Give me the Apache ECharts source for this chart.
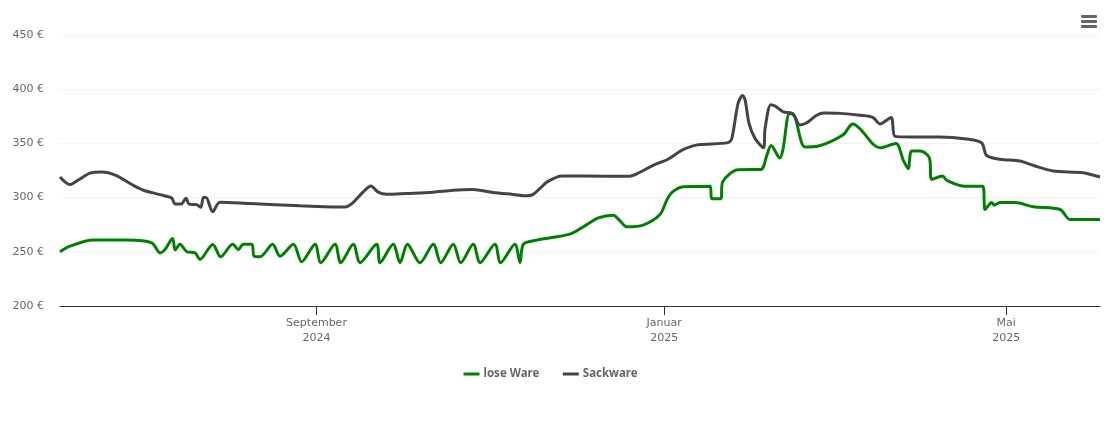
<!DOCTYPE html>
<html>
<head>
<meta charset="utf-8">
<title>Preisverlauf</title>
<script src="https://cdn.jsdelivr.net/npm/echarts@6/dist/echarts.min.js"></script>
<style>
html,body{margin:0;padding:0;background:#fff}
#chart{width:1110px;height:423px}
</style>
</head>
<body>
<div id="chart"></div>
<script>
// x values are days counted from 3 June 2024
var lastDay = 364.9;

var looseDays = [0,3.5,11.7,23.4,32.2,35.1,36.8,39.5,40.4,42.1,44.5,47.4,49.1,53.6,56.4,60.6,62.6,64.3,67.3,68.1,70.2,74.6,77.2,81.9,84.8,89.5,91.5,96.5,98.5,102.9,105.3,111.1,112.3,116.9,119.3,121.9,126.3,131,133.6,138,140.6,145,147.4,152.6,154.6,159.6,161.4,162.6,167.3,178.9,183.6,188.9,194.1,196.5,199,204.6,210.5,212.9,214.8,218.7,228.1,228.7,231.8,232.5,238,245.9,248,249.5,252.6,253.7,255.9,257.1,261.4,266.1,274.8,278.1,280.7,285.4,287.7,293.3,295.9,297.6,298.8,301.8,305,305.9,309.7,311.1,317.5,323.7,324.6,326.9,327.7,329.8,335.1,341.5,350.9,354.4,364.9];
var looseValues = [250,255.2,260.8,260.8,258.3,249,252,262.3,251.6,257,250,249,243,256.8,245.4,257,252,257,257,246,245.4,257,246,257,240.8,257,240,257,240,257,240,257,240,257,240,257,240,257,240,257,240,257,240,257,240,257,240,257,260.8,266.3,273,281.3,283.8,278.5,273,274.6,284.4,297.6,305,310,310.5,299,299,314.5,325.8,326,339,348,336.5,345,377.4,377.4,346.7,347.6,358,368,363.5,349,346,350,334.4,326.7,343,343,337,316.7,320,316,310.5,310.5,289,295.4,293,295.4,295.4,291.5,289,279.8,279.8];

var sackDays = [0,3.5,6.3,10.5,14.6,19.6,24.6,29.1,35.1,39.2,40.4,42.5,44.2,45.3,48,49.4,50.3,51.2,53.6,56.1,66.7,84.2,100,102.4,106.3,109.1,111.6,114.7,121.6,130.9,137.9,144.9,151.9,158.9,163.8,166,168.4,171.2,176.1,191.8,199.3,202.4,208.1,213.3,218.1,221.8,224.6,234.4,235.7,237.9,239.5,240.4,241.8,243.9,246.8,247.4,249.4,250.9,253.8,256.7,257.9,259.6,262,265.5,268.1,273.7,280.7,285.2,287.7,291.6,293,298.2,308.8,318.1,323.4,325.1,329.8,336.8,341.4,348.4,358.9,364.9];
var sackValues = [319,312,316,322.5,323.7,320.6,313,307,302.7,299.5,294,294,299.5,294,293.5,291,300,300,287,295.8,294.5,292.5,291.4,294.5,305,310.8,305,303,303.8,305,306.8,307.4,304.7,302.9,301.6,303,308.4,315,320,319.7,319.7,322,329.8,335.4,343.6,347.5,349,350.7,354.4,386.6,394.3,389.7,368,354.4,346,364,385.7,384.5,379,378,374,367,369,376,378,377.7,376,374,368,374,356.5,356,356,354,350.4,339,335.4,333.8,329.8,324.6,323,319];

// 1 Sep 2024, 1 Jan 2025, 1 May 2025
var tickDays = [90, 212, 332];
var tickLabels = ['September\n2024', 'Januar\n2025', 'Mai\n2025'];

function toPoints(days, values) {
    return days.map(function (d, i) {
        return [d, values[i]];
    });
}

var chart = echarts.init(document.getElementById('chart'));
var labelFont = 'DejaVu Sans';

chart.setOption({
    animation: false,
    backgroundColor: '#fff',
    grid: {left: 60, right: 10, top: 35, bottom: 117},
    legend: {
        data: ['lose Ware', 'Sackware'],
        left: 457,
        top: 363,
        itemWidth: 16,
        itemHeight: 3,
        itemGap: 22,
        lineStyle: {width: 3},
        textStyle: {color: '#666', fontFamily: 'Noto Sans', fontSize: 11.5, fontWeight: 'bold', padding: [0, 0, 0, -1]}
    },
    xAxis: {
        type: 'value',
        min: 0,
        max: lastDay,
        splitLine: {show: false},
        axisLine: {onZero: false, lineStyle: {color: '#333', width: 1}},
        axisTick: {
            length: 9,
            customValues: tickDays,
            lineStyle: {color: '#333'}
        },
        axisLabel: {
            customValues: tickDays,
            color: '#666',
            fontFamily: labelFont,
            fontSize: 11,
            lineHeight: 15,
            margin: 10,
            formatter: function (v) {
                return tickLabels[tickDays.indexOf(v)];
            }
        }
    },
    yAxis: {
        type: 'value',
        min: 200,
        max: 450,
        interval: 50,
        axisLine: {show: false},
        axisTick: {show: false},
        axisLabel: {
            color: '#666',
            fontFamily: labelFont,
            fontSize: 11,
            margin: 16,
            padding: [0, 0, 7, 0],
            formatter: '{value} €'
        },
        splitLine: {lineStyle: {color: '#e6e6e6', type: 'dotted', width: 1}}
    },
    series: [
        {
            name: 'lose Ware',
            type: 'line',
            data: toPoints(looseDays, looseValues),
            showSymbol: false,
            symbol: 'none',
            smooth: 0.3,
            itemStyle: {color: '#008000'},
            lineStyle: {color: '#008000', width: 3}
        },
        {
            name: 'Sackware',
            type: 'line',
            data: toPoints(sackDays, sackValues),
            showSymbol: false,
            symbol: 'none',
            smooth: 0.3,
            itemStyle: {color: '#434348'},
            lineStyle: {color: '#434348', width: 3}
        }
    ],
    // export menu button, top right
    graphic: [15, 20, 25].map(function (y) {
        return {
            type: 'rect',
            shape: {x: 1081, y: y, width: 16, height: 3, r: 1},
            style: {fill: '#666'}
        };
    })
});
</script>
</body>
</html>
